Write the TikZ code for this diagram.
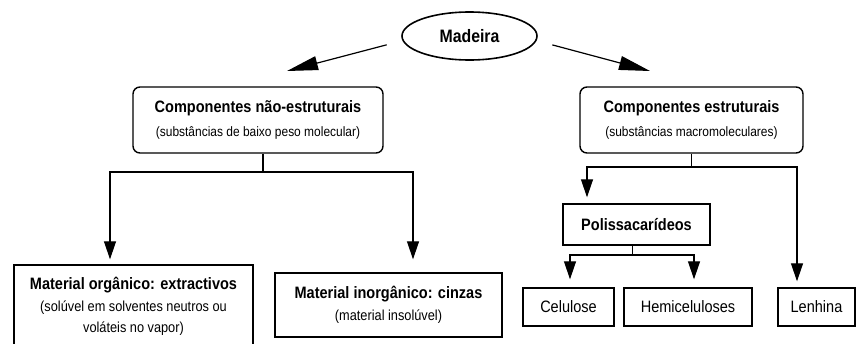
\documentclass[tikz,border=0pt]{standalone}
\usepackage{fontspec}
\setmainfont{Liberation Sans}[FakeStretch=0.88]
\usetikzlibrary{shapes.geometric,arrows.meta,positioning}

\newcommand{\grptitle}{\fontsize{16.5}{19}\selectfont\bfseries}
\newcommand{\grpnote}{\fontsize{13.6}{16}\selectfont\mdseries}
\newcommand{\matnote}{\fontsize{14.5}{17}\selectfont\mdseries}

\begin{document}
\begin{tikzpicture}[x=1pt,y=-1pt]
  \tikzset{
    root/.style={ellipse, draw, line width=1.6pt, minimum width=135pt,
      minimum height=48pt, inner sep=0pt, font=\fontsize{18}{21}\selectfont\bfseries},
    group/.style={rectangle, rounded corners=7pt, draw, line width=1.4pt,
      align=center, inner sep=0pt},
    matbox/.style={rectangle, draw, line width=1.4pt, align=center, inner sep=0pt},
    leaf/.style={rectangle, draw, line width=1.4pt, inner sep=0pt,
      minimum height=38pt, font=\fontsize{16.5}{19}\selectfont},
    link/.style={line width=1.2pt},
    bigarrow/.style={link, -{Triangle[length=31pt,width=14pt]}},
    downarrow/.style={link, -{Triangle[length=18pt,width=12pt]}}
  }
  \useasboundingbox (0,0) rectangle (856,343);

  % root
  \node[root] (madeira) at (469.5,36) {Madeira};

  % two main groups
  \node[group, minimum width=250pt, minimum height=66pt] (naoestr) at (258,120)
    {\grptitle Componentes não-estruturais\\[9pt]\grpnote (substâncias de baixo peso molecular)};
  \node[group, minimum width=223pt, minimum height=66pt] (estr) at (691.5,120)
    {\grptitle Componentes estruturais\\[9pt]\grpnote (substâncias macromoleculares)};

  \coordinate (tipL) at (287,71);
  \coordinate (tipR) at (650,71);
  \draw[bigarrow, shorten <=15pt] ([yshift=-5pt]madeira.west) -- (tipL);
  \draw[bigarrow, shorten <=15pt] ([yshift=-5pt]madeira.east) -- (tipR);

  % non-structural part
  \node[matbox, minimum width=239pt, minimum height=82pt] (organico) at (133.5,306)
    {\grptitle Material orgânico: extractivos\\[7pt]\matnote (solúvel em solventes neutros ou\\[6pt]\matnote voláteis no vapor)};
  \node[matbox, minimum width=227pt, minimum height=64pt] (inorganico) at (388.5,305)
    {\grptitle Material inorgânico: cinzas\\[7pt]\matnote (material insolúvel)};

  \coordinate (hl) at (110,172);
  \coordinate (hr) at (413,172);
  \draw[link] ([xshift=5pt]naoestr.south) -- ([xshift=5pt]naoestr.south |- hl);
  \draw[downarrow] (hr) -- (hl) -- ([yshift=5pt]hl |- organico.north);
  \draw[downarrow] (hl) -- (hr) -- ([yshift=13pt]hr |- inorganico.north);

  % structural part
  \node[matbox, minimum width=147pt, minimum height=41pt, font=\grptitle] (polis) at (636.5,224.5)
    {Polissacarídeos};
  \node[leaf, minimum width=91pt] (celulose) at (568.5,307) {Celulose};
  \node[leaf, minimum width=128pt] (hemi) at (688,307) {Hemiceluloses};
  \node[leaf, minimum width=77pt] (lenhina) at (816.5,307) {Lenhina};

  \coordinate (rl) at (587,167);
  \coordinate (rr) at (797,167);
  \draw[link] (estr.south) -- (estr.south |- rl);
  \draw[downarrow] (rr) -- (rl) -- ([yshift=6pt]rl |- polis.north);
  \draw[downarrow] (rl) -- (rr) -- ([yshift=6pt]rr |- lenhina.north);

  \coordinate (pl) at (570,255);
  \coordinate (pr) at (694,255);
  \draw[link] ([xshift=-4pt]polis.south) -- ([xshift=-4pt]polis.south |- pl);
  \draw[downarrow] (pr) -- (pl) -- ([yshift=8pt]pl |- celulose.north);
  \draw[downarrow] (pl) -- (pr) -- ([yshift=8pt]pr |- hemi.north);
\end{tikzpicture}
\end{document}
